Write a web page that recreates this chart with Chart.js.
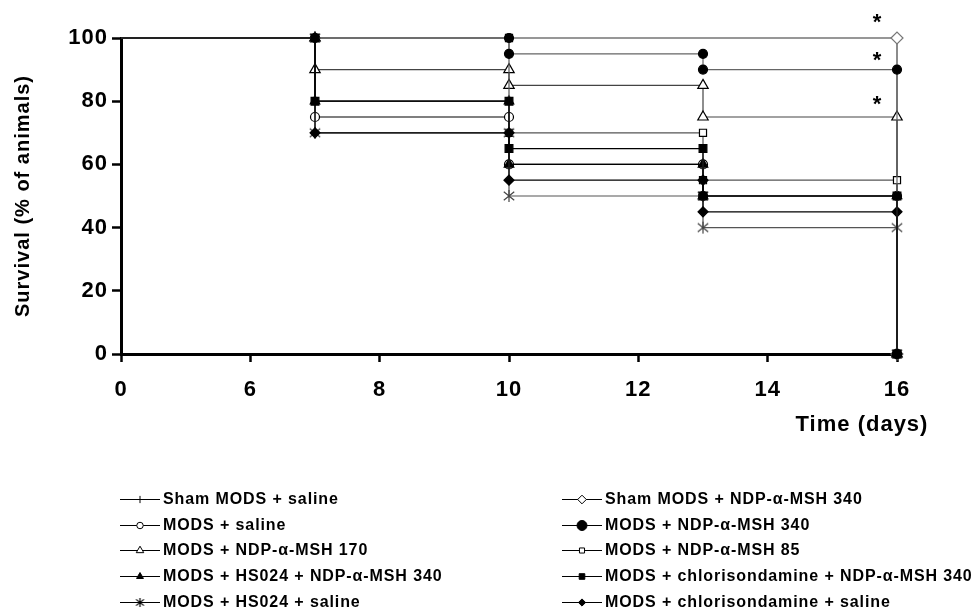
<!DOCTYPE html>
<html>
<head>
<meta charset="utf-8">
<title>Survival after MODS</title>
<script src="https://cdn.jsdelivr.net/npm/chart.js@4.4.0/dist/chart.umd.min.js"></script>
<style>
  body { margin: 0; background: #fff; }
  #wrap { position: relative; width: 973px; height: 610px; font-family: 'Liberation Sans', Arial, sans-serif; }
  #chart { position: absolute; left: 0; top: 0; }
  .legend-col { position: absolute; top: 486px; }
  .legend-item { display: flex; align-items: center; height: 25.7px; font-weight: bold; font-size: 16px; letter-spacing: 0.9px; color: #000; white-space: nowrap; }
  .legend-item canvas { margin-right: 1px; }
</style>
</head>
<body>
<div id="wrap">
  <canvas id="chart" width="973" height="440"></canvas>
  <div id="legend-left" class="legend-col" style="left:118px"></div>
  <div id="legend-right" class="legend-col" style="left:560px"></div>
</div>
<script>
// Group names, legend order (left column first, then right column)
const GROUPS = [
  'Sham MODS + saline',
  'MODS + saline',
  'MODS + NDP-\u03b1-MSH 170',
  'MODS + HS024 + NDP-\u03b1-MSH 340',
  'MODS + HS024 + saline',
  'Sham MODS + NDP-\u03b1-MSH 340',
  'MODS + NDP-\u03b1-MSH 340',
  'MODS + NDP-\u03b1-MSH 85',
  'MODS + chlorisondamine + NDP-\u03b1-MSH 340',
  'MODS + chlorisondamine + saline'
];

// Step points (days) of the survival curves
const DAYS_SHAM = [0, 16, 16];
const DAYS_FROM_7 = [0, 7, 7, 10, 10, 13, 13, 16, 16];
const DAYS_FROM_10 = [0, 10, 10, 13, 13, 16, 16];

// Survival (% of animals) at each step point
const SURV_SHAM_SALINE = [100, 100, 0];
const SURV_MODS_SALINE = [100, 100, 75, 75, 60, 60, 50, 50, 0];
const SURV_NDP_170 = [100, 100, 90, 90, 85, 85, 75, 75, 0];
const SURV_HS024_NDP_340 = [100, 100, 80, 80, 60, 60, 50, 50, 0];
const SURV_HS024_SALINE = [100, 100, 70, 70, 50, 50, 40, 40, 0];
const SURV_SHAM_NDP_340 = [100, 100, 0];
const SURV_NDP_340 = [100, 100, 95, 95, 90, 90, 0];
const SURV_NDP_85 = [100, 100, 70, 70, 55, 55, 0];
const SURV_CHLOR_NDP_340 = [100, 100, 80, 80, 65, 65, 50, 50, 0];
const SURV_CHLOR_SALINE = [100, 100, 70, 70, 55, 55, 45, 45, 0];

const SERIES_DAYS = [DAYS_SHAM, DAYS_FROM_7, DAYS_FROM_7, DAYS_FROM_7, DAYS_FROM_7,
  DAYS_SHAM, DAYS_FROM_10, DAYS_FROM_10, DAYS_FROM_7, DAYS_FROM_7];
const SERIES_SURV = [SURV_SHAM_SALINE, SURV_MODS_SALINE, SURV_NDP_170, SURV_HS024_NDP_340, SURV_HS024_SALINE,
  SURV_SHAM_NDP_340, SURV_NDP_340, SURV_NDP_85, SURV_CHLOR_NDP_340, SURV_CHLOR_SALINE];

// Axis ticks; day 0 sits at an axis break drawn at day 4
const X_TICKS = [0, 6, 8, 10, 12, 14, 16];
const Y_TICKS = [0, 20, 40, 60, 80, 100];
const AXIS_BREAK_POS = 4;

// Significance marks (*) near the end of the curves
const SIG_DAYS = [15.7, 15.7, 15.7];
const SIG_LEVELS = [106, 94, 80];

// Asterisk marker (6 arms) drawn once on a small canvas
function asteriskMarker(size, color) {
  const c = document.createElement('canvas');
  c.width = size;
  c.height = size;
  const ctx = c.getContext('2d');
  const m = size / 2;
  const r = size / 2 - 1;
  ctx.strokeStyle = color;
  ctx.lineWidth = 1.2;
  ctx.beginPath();
  ctx.moveTo(m, m - r); ctx.lineTo(m, m + r);
  ctx.moveTo(m - r * 0.87, m - r * 0.7); ctx.lineTo(m + r * 0.87, m + r * 0.7);
  ctx.moveTo(m - r * 0.87, m + r * 0.7); ctx.lineTo(m + r * 0.87, m - r * 0.7);
  ctx.stroke();
  return c;
}

// Marker and line styles, one per group
const STYLES = [
  { point: 'cross', r: 5, fill: '#777', line: '#777', order: 6 },
  { point: 'circle', r: 4.5, fill: '#fff', line: '#000', order: 5 },
  { point: 'triangle', r: 6, fill: '#fff', line: '#444', order: 4 },
  { point: 'triangle', r: 5.5, fill: '#000', line: '#000', order: 3 },
  { point: 'star', r: 6, fill: '#555', line: '#555', order: 2, image: asteriskMarker(14, '#444') },
  { point: 'rectRot', r: 6, fill: '#fff', line: '#777', order: 5 },
  { point: 'circle', r: 4.5, fill: '#000', line: '#666', order: 1 },
  { point: 'rect', r: 5, fill: '#fff', line: '#555', order: 2 },
  { point: 'rect', r: 5.5, fill: '#000', line: '#000', order: 0 },
  { point: 'rectRot', r: 5, fill: '#000', line: '#000', order: 1 }
];

const FONT_FAMILY = "'Liberation Sans', Arial, sans-serif";

// Map a day to its place on the (broken) x axis
function axisPos(day) {
  return day === 0 ? AXIS_BREAK_POS : day;
}

// Build one dataset per group
function buildDatasets() {
  return GROUPS.map((label, i) => {
    const s = STYLES[i];
    return {
      label: label,
      data: SERIES_DAYS[i].map((d, k) => ({ x: axisPos(d), y: SERIES_SURV[i][k] })),
      borderColor: s.line,
      borderWidth: 1.2,
      backgroundColor: s.fill,
      pointStyle: s.image || s.point,
      pointRadius: ctx => (ctx.dataIndex === 0 ? 0 : s.r),
      pointBackgroundColor: s.fill,
      pointBorderColor: s.point === 'circle' || s.point === 'rect' || s.point === 'triangle' ? '#000' : s.line,
      pointBorderWidth: 1.2,
      tension: 0,
      fill: false,
      clip: false,
      order: s.order
    };
  });
}

// Slightly wider letter spacing, like the original figure
const spacing = {
  id: 'spacing',
  beforeLayout(chart) { chart.ctx.letterSpacing = '1px'; },
  beforeDraw(chart) { chart.ctx.letterSpacing = '1px'; }
};

// Axis title on the right and significance asterisks
const annotations = {
  id: 'annotations',
  afterDraw(chart) {
    const ctx = chart.ctx;
    const x = chart.scales.x;
    const y = chart.scales.y;
    ctx.save();
    ctx.fillStyle = '#000';
    ctx.font = 'bold 22px ' + FONT_FAMILY;
    ctx.textAlign = 'center';
    ctx.textBaseline = 'middle';
    ctx.fillText('Time (days)', 862, 425);

    ctx.font = 'bold 22px ' + FONT_FAMILY;
    SIG_DAYS.forEach((d, i) => {
      ctx.fillText('*', x.getPixelForValue(d), y.getPixelForValue(SIG_LEVELS[i]) + 4);
    });
    ctx.restore();
  }
};

// Create chart
function createChart() {
  const canvas = document.getElementById('chart');
  return new Chart(canvas, {
    type: 'line',
    data: { datasets: buildDatasets() },
    options: {
      responsive: false,
      animation: false,
      layout: { padding: { top: 38, right: 76, left: 0, bottom: 0 } },
      plugins: { legend: { display: false }, tooltip: { enabled: false } },
      scales: {
        x: {
          type: 'linear',
          min: AXIS_BREAK_POS,
          max: 16,
          afterBuildTicks: scale => { scale.ticks = X_TICKS.map(v => ({ value: axisPos(v) })); },
          afterFit: scale => { scale.height = 86; },
          ticks: {
            callback: v => (v === AXIS_BREAK_POS ? '0' : v),
            color: '#000',
            font: { family: FONT_FAMILY, size: 22, weight: 'bold' },
            padding: 15,
            maxRotation: 0,
            autoSkip: false
          },
          grid: { drawOnChartArea: false, tickLength: 8, tickWidth: 2.5, tickColor: '#000' },
          border: { color: '#000', width: 3 }
        },
        y: {
          min: 0,
          max: 100,
          afterBuildTicks: scale => { scale.ticks = Y_TICKS.map(v => ({ value: v })); },
          afterFit: scale => { scale.width = 121; },
          ticks: {
            color: '#000',
            font: { family: FONT_FAMILY, size: 22, weight: 'bold' },
            padding: 4
          },
          grid: { drawOnChartArea: false, tickLength: 9, tickWidth: 2.5, tickColor: '#000' },
          border: { color: '#000', width: 3 },
          title: {
            display: true,
            text: 'Survival (% of animals)',
            color: '#000',
            font: { family: FONT_FAMILY, size: 20, weight: 'bold' },
            padding: { top: 11, bottom: 0 }
          }
        }
      }
    },
    plugins: [spacing, annotations]
  });
}

// Draw a legend sample: short line with the group's marker
function legendSample(style) {
  const c = document.createElement('canvas');
  c.width = 44;
  c.height = 20;
  const ctx = c.getContext('2d');
  ctx.strokeStyle = '#000';
  ctx.lineWidth = 1;
  ctx.beginPath();
  ctx.moveTo(2, 10.5);
  ctx.lineTo(42, 10.5);
  ctx.stroke();
  if (style.image) {
    ctx.drawImage(asteriskMarker(11, '#000'), 16.5, 5);
    return c;
  }
  ctx.fillStyle = style.fill;
  ctx.strokeStyle = '#000';
  if (Chart.helpers && Chart.helpers.drawPoint) {
    Chart.helpers.drawPoint(ctx, {
      pointStyle: style.point,
      radius: style.point === 'circle' && style.fill === '#000' ? 5 : style.r * 0.72,
      rotation: 0,
      borderWidth: 1
    }, 22, 10.5);
  }
  return c;
}

// Render the two legend columns
function renderLegend() {
  const left = document.getElementById('legend-left');
  const right = document.getElementById('legend-right');
  GROUPS.forEach((label, i) => {
    const item = document.createElement('div');
    item.className = 'legend-item';
    item.appendChild(legendSample(STYLES[i]));
    const text = document.createElement('span');
    text.textContent = label;
    item.appendChild(text);
    (i < 5 ? left : right).appendChild(item);
  });
}

createChart();
renderLegend();
</script>
</body>
</html>
